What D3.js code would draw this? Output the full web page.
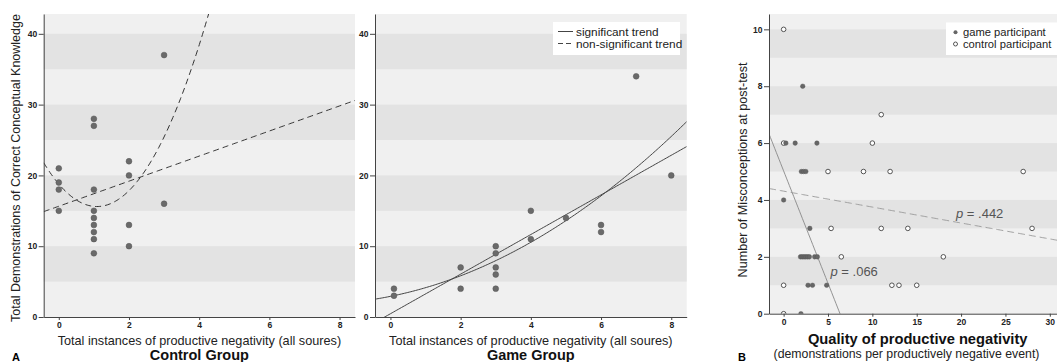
<!DOCTYPE html>
<html>
<head>
<meta charset="utf-8">
<script src="https://cdn.jsdelivr.net/npm/d3@7"></script>
<style>
  body { margin: 0; background: #fff; }
  svg { display: block; font-family: "Liberation Sans", Arial, sans-serif; }
  .tick text { font-weight: bold; font-size: 8.5px; fill: #222; }
  .tick line, .domain { stroke: #444; }
</style>
</head>
<body>
<svg id="chart" width="1057" height="362"></svg>
<script>
// ---- data ----
// panel A, control group
const controlX = [0, 0, 0, 0, 1, 1, 1, 1, 1, 1, 1, 1, 1, 2, 2, 2, 2, 3, 3];
const controlY = [21, 19, 18, 15, 28, 27, 18, 15, 14, 13, 12, 11, 9, 22, 20, 13, 10, 37, 16];
// panel A, game group
const gameX = [0.1, 0.1, 2, 2, 3, 3, 3, 3, 3, 4, 4, 5, 6, 6, 7, 8];
const gameY = [4, 3, 7, 4, 10, 9, 7, 6, 4, 15, 11, 14, 13, 12, 34, 20];
const aXTicks = [0, 2, 4, 6, 8];
const aYTicks = [0, 10, 20, 30, 40];

// panel B
const bGameX = [2.15, 0.25, 1.3, 3.75, 2.0, 2.25, 2.5, 0, 2.95, 1.9, 2.1, 2.3, 2.5, 2.7, 2.9, 3.5, 3.8, 2.75, 3.25, 4.85, 1.95];
const bGameY = [8, 6, 6, 6, 5, 5, 5, 4, 3, 2, 2, 2, 2, 2, 2, 2, 2, 1, 1, 1, 0];
const bControlX = [0, 11, 0, 10, 5, 9, 12, 27, 5.35, 11, 14, 28, 6.5, 18, 12.2, 13, 15, 0, 0];
const bControlY = [10, 7, 6, 6, 5, 5, 5, 5, 3, 3, 3, 3, 2, 2, 1, 1, 1, 1, 0];
// trend lines in panel B: [intercept, slope]
const bTrendGame = [5.02, -0.79];
const bTrendControl = [4.31, -0.056];
const bXTicks = [0, 5, 10, 15, 20, 25, 30];
const bYTicks = [0, 2, 4, 6, 8, 10];

const svg = d3.select("#chart");

// least squares polynomial fit (degree 1 or 2)
function polyfit(xs, ys, deg) {
  const n = deg + 1;
  const A = [];
  for (let i = 0; i < n; i++) {
    A.push([]);
    for (let j = 0; j <= n; j++) A[i].push(0);
  }
  xs.forEach((x, k) => {
    for (let i = 0; i < n; i++) {
      for (let j = 0; j < n; j++) A[i][j] += Math.pow(x, i + j);
      A[i][n] += Math.pow(x, i) * ys[k];
    }
  });
  // gauss elimination
  for (let i = 0; i < n; i++) {
    for (let r = i + 1; r < n; r++) {
      const f = A[r][i] / A[i][i];
      for (let c = i; c <= n; c++) A[r][c] -= f * A[i][c];
    }
  }
  const coef = new Array(n).fill(0);
  for (let i = n - 1; i >= 0; i--) {
    let s = A[i][n];
    for (let j = i + 1; j < n; j++) s -= A[i][j] * coef[j];
    coef[i] = s / A[i][i];
  }
  return coef;
}

function polyval(coef, x) {
  return coef.reduce((s, c, i) => s + c * Math.pow(x, i), 0);
}

let clipId = 0;

function makePanel(o) {
  const x = d3.scaleLinear().domain(o.xDomain).range([o.left, o.right]);
  const y = d3.scaleLinear().domain(o.yDomain).range([o.bottom, o.top]);
  const g = svg.append("g");

  // background + bands
  g.append("rect")
    .attr("x", o.left).attr("y", o.top)
    .attr("width", o.right - o.left).attr("height", o.bottom - o.top)
    .attr("fill", "#f0f0f0");
  o.bands.forEach(b => {
    g.append("rect")
      .attr("x", o.left)
      .attr("y", y(Math.min(b[1], o.yDomain[1])))
      .attr("width", o.right - o.left)
      .attr("height", y(b[0]) - y(Math.min(b[1], o.yDomain[1])))
      .attr("fill", "#e3e3e3");
  });

  const id = "clip" + (clipId++);
  svg.append("clipPath").attr("id", id)
    .append("rect")
    .attr("x", o.left).attr("y", o.top)
    .attr("width", o.right - o.left).attr("height", o.bottom - o.top);

  const plot = g.append("g").attr("clip-path", `url(#${id})`);

  // axes
  g.append("g")
    .attr("transform", `translate(${o.left},0)`)
    .call(d3.axisLeft(y).tickValues(o.yTicks).tickSize(5).tickSizeOuter(0).tickPadding(1.5));
  g.append("g")
    .attr("transform", `translate(0,${o.bottom})`)
    .call(d3.axisBottom(x).tickValues(o.xTicks).tickSize(3).tickSizeOuter(0).tickPadding(2));

  return { x, y, g, plot };
}

function drawFit(p, coef, dash, color, width, domain) {
  const pts = d3.range(0, 201).map(i => {
    const xv = domain[0] + (domain[1] - domain[0]) * i / 200;
    return [xv, polyval(coef, xv)];
  });
  p.plot.append("path")
    .attr("d", d3.line().x(d => p.x(d[0])).y(d => p.y(d[1]))(pts))
    .attr("fill", "none")
    .attr("stroke", color)
    .attr("stroke-width", width)
    .attr("stroke-dasharray", dash);
}

const aBands = [[5, 10], [15, 20], [25, 30], [35, 40]];

// ---- Panel A: control ----
const pc = makePanel({
  left: 43.7, right: 355, top: 14, bottom: 317,
  xDomain: [-0.43, 8.44], yDomain: [0, 42.8],
  xTicks: aXTicks, yTicks: aYTicks, bands: aBands
});
drawFit(pc, polyfit(controlX, controlY, 1), "6,4", "#333", 1, [-0.43, 8.44]);
drawFit(pc, polyfit(controlX, controlY, 2), "6,4", "#333", 1, [-0.43, 8.44]);
pc.plot.selectAll("circle.pt")
  .data(controlX.map((d, i) => [d, controlY[i]]))
  .join("circle")
  .attr("cx", d => pc.x(d[0])).attr("cy", d => pc.y(d[1]))
  .attr("r", 2.9).attr("fill", "#6a6a6a").attr("stroke", "#555").attr("stroke-width", 0.5);

// ---- Panel A: game ----
const pg = makePanel({
  left: 375, right: 686.7, top: 14, bottom: 317,
  xDomain: [-0.44, 8.44], yDomain: [0, 42.8],
  xTicks: aXTicks, yTicks: aYTicks, bands: aBands
});
drawFit(pg, polyfit(gameX, gameY, 1), null, "#444", 1, [-0.44, 8.44]);
drawFit(pg, polyfit(gameX, gameY, 2), null, "#444", 1, [-0.44, 8.44]);
pg.plot.selectAll("circle.pt")
  .data(gameX.map((d, i) => [d, gameY[i]]))
  .join("circle")
  .attr("cx", d => pg.x(d[0])).attr("cy", d => pg.y(d[1]))
  .attr("r", 2.9).attr("fill", "#6a6a6a").attr("stroke", "#555").attr("stroke-width", 0.5);

// legend A
const legA = svg.append("g");
legA.append("rect").attr("x", 553).attr("y", 22).attr("width", 127).attr("height", 33).attr("fill", "#fff");
legA.append("line").attr("x1", 558).attr("x2", 573).attr("y1", 31.5).attr("y2", 31.5).attr("stroke", "#444");
legA.append("line").attr("x1", 558).attr("x2", 574).attr("y1", 43.5).attr("y2", 43.5)
  .attr("stroke", "#444").attr("stroke-dasharray", "5,3");
legA.append("text").attr("x", 576).attr("y", 35.5).attr("font-size", 11.8).attr("fill", "#222").text("significant trend");
legA.append("text").attr("x", 576).attr("y", 47.5).attr("font-size", 11.8).attr("fill", "#222").text("non-significant trend");

// A labels
svg.append("text")
  .attr("transform", "translate(20,168) rotate(-90)")
  .attr("text-anchor", "middle").attr("font-size", 12.5).attr("fill", "#222")
  .text("Total Demonstrations of Correct Conceptual Knowledge");
[[199.4, "Control Group"], [530.8, "Game Group"]].forEach(d => {
  svg.append("text").attr("x", d[0]).attr("y", 344.5)
    .attr("text-anchor", "middle").attr("font-size", 12.7).attr("fill", "#222")
    .text("Total instances of productive negativity (all soures)");
  svg.append("text").attr("x", d[0]).attr("y", 359.5)
    .attr("text-anchor", "middle").attr("font-size", 14.5).attr("font-weight", "bold").attr("fill", "#111")
    .text(d[1]);
});
svg.append("text").attr("x", 12).attr("y", 361).attr("font-size", 11).attr("font-weight", "bold").text("A");

// ---- Panel B ----
const pb = makePanel({
  left: 769, right: 1060, top: 14, bottom: 313.7,
  xDomain: [-1.65, 31.15], yDomain: [0, 10.54],
  xTicks: bXTicks, yTicks: bYTicks,
  bands: [[1, 2], [3, 4], [5, 6], [7, 8], [9, 10]]
});
drawFit(pb, bTrendGame, null, "#888", 0.9, [-1.65, 31.15]);
drawFit(pb, bTrendControl, "7,4", "#999", 0.9, [-1.65, 31.15]);
pb.plot.selectAll("circle.ctl")
  .data(bControlX.map((d, i) => [d, bControlY[i]]))
  .join("circle").attr("class", "ctl")
  .attr("cx", d => pb.x(d[0])).attr("cy", d => pb.y(d[1]))
  .attr("r", 2.3).attr("fill", "#fff").attr("stroke", "#444").attr("stroke-width", 0.9);
pb.plot.selectAll("circle.gm")
  .data(bGameX.map((d, i) => [d, bGameY[i]]))
  .join("circle").attr("class", "gm")
  .attr("cx", d => pb.x(d[0])).attr("cy", d => pb.y(d[1]))
  .attr("r", 2.3).attr("fill", "#666").attr("stroke", "#555").attr("stroke-width", 0.4);

svg.append("text").attr("x", 956).attr("y", 217.5).attr("font-size", 13).attr("fill", "#555")
  .html('<tspan font-style="italic">p</tspan> = .442');
svg.append("text").attr("x", 830.5).attr("y", 275.5).attr("font-size", 13).attr("fill", "#555")
  .html('<tspan font-style="italic">p</tspan> = .066');

// legend B
const legB = svg.append("g");
legB.append("rect").attr("x", 946).attr("y", 22.5).attr("width", 120).attr("height", 32.5).attr("fill", "#fff");
legB.append("circle").attr("cx", 955.5).attr("cy", 32.3).attr("r", 2).attr("fill", "#666");
legB.append("circle").attr("cx", 955.5).attr("cy", 44).attr("r", 2).attr("fill", "#fff").attr("stroke", "#444").attr("stroke-width", 0.9);
legB.append("text").attr("x", 963).attr("y", 36).attr("font-size", 11.2).attr("fill", "#222").text("game participant");
legB.append("text").attr("x", 963).attr("y", 47.8).attr("font-size", 11.2).attr("fill", "#222").text("control participant");

svg.append("text")
  .attr("transform", "translate(747,170) rotate(-90)")
  .attr("text-anchor", "middle").attr("font-size", 12.6).attr("fill", "#222")
  .text("Number of Misconceptions at post-test");
svg.append("text").attr("x", 917.7).attr("y", 344)
  .attr("text-anchor", "middle").attr("font-size", 14.7).attr("font-weight", "bold").attr("fill", "#111")
  .text("Quality of productive negativity");
svg.append("text").attr("x", 906.5).attr("y", 358)
  .attr("text-anchor", "middle").attr("font-size", 12.3).attr("fill", "#222")
  .text("(demonstrations per productively negative event)");
svg.append("text").attr("x", 738).attr("y", 361).attr("font-size", 11).attr("font-weight", "bold").text("B");
</script>
</body>
</html>
